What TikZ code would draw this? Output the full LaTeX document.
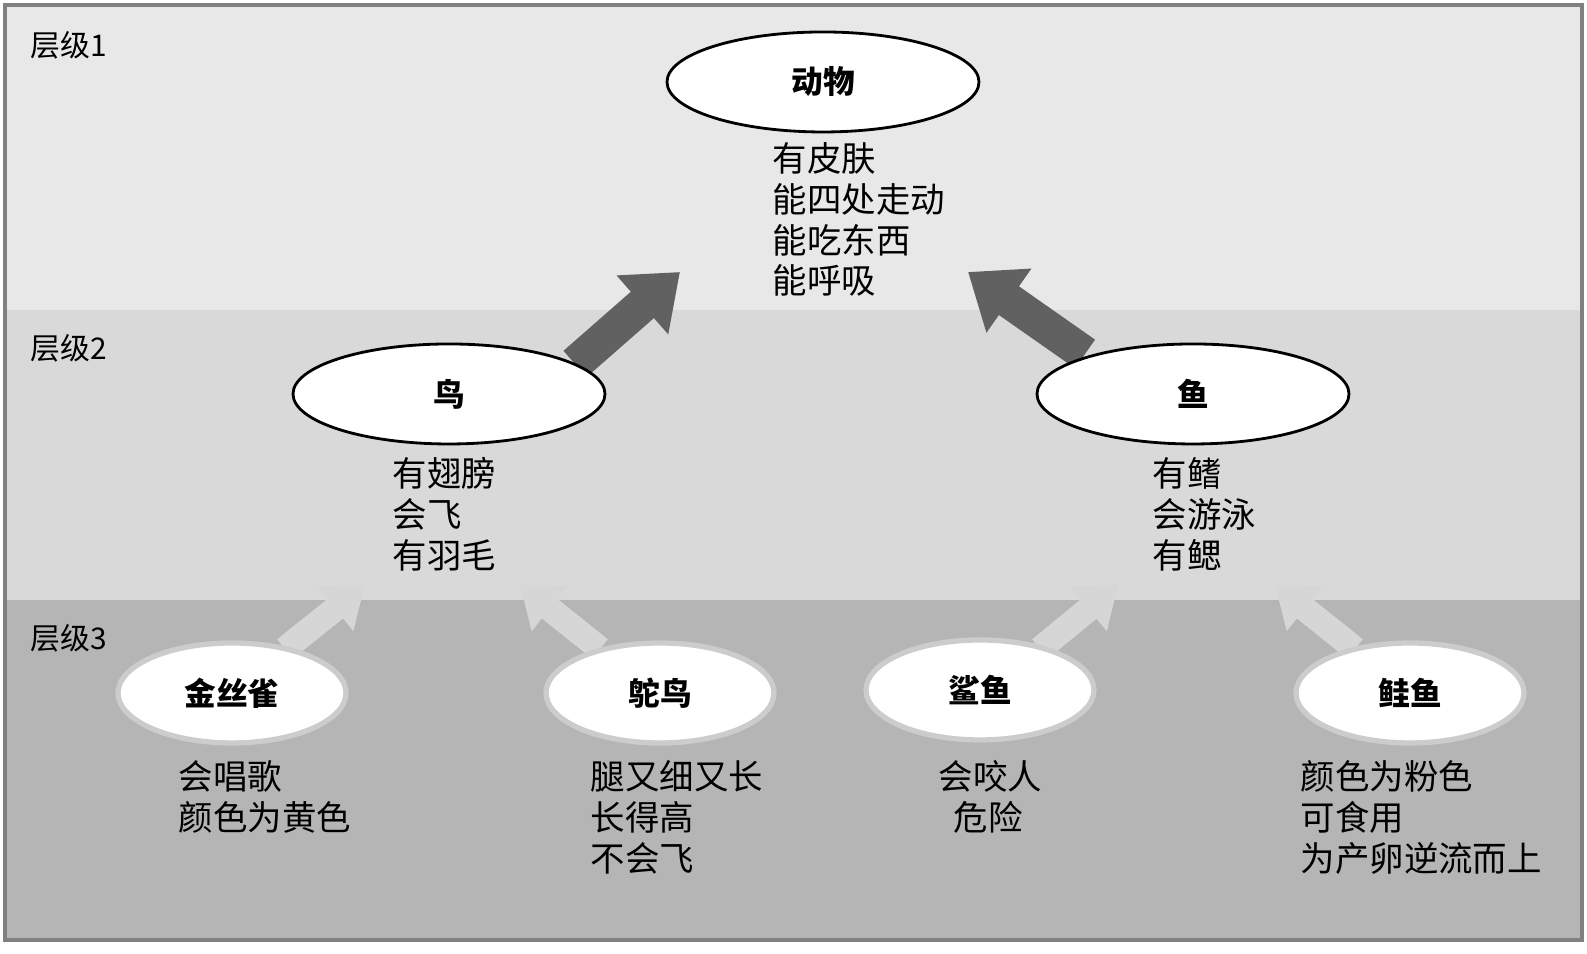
\documentclass[tikz,border=0pt]{standalone}
\usepackage{fontspec}
\newfontfamily\cjk{Noto Sans CJK SC}
\usetikzlibrary{arrows.meta,shapes.geometric}
\definecolor{bandA}{gray}{0.91}
\definecolor{bandB}{gray}{0.85}
\definecolor{bandC}{gray}{0.71}
\definecolor{darkarrow}{gray}{0.38}
\definecolor{lightarrow}{gray}{0.84}
\tikzset{
  concept/.style={ellipse, draw=black, thick, fill=white, minimum width=3.12cm, minimum height=1cm, font=\cjk\bfseries\fontsize{9}{11}\selectfont},
  leaf/.style={ellipse, draw=gray!40, line width=1.5pt, fill=white, minimum width=2.28cm, minimum height=1cm, font=\cjk\bfseries\fontsize{9}{11}\selectfont},
  props/.style={anchor=north west, align=left, inner sep=0pt, font=\cjk\fontsize{9.8}{11.6}\selectfont},
  level/.style={anchor=west, inner sep=0pt, font=\cjk\fontsize{8.5}{10}\selectfont},
  bigarrow/.style={line width=0.35cm, draw=darkarrow, -{Triangle[width=0.75cm,length=0.5cm]}},
  smallarrow/.style={line width=0.25cm, draw=lightarrow, -{Triangle[width=0.55cm,length=0.38cm]}}
}
\begin{document}
\begin{tikzpicture}
\useasboundingbox (0,0) rectangle (15.87,9.54);
% bands
\fill[bandA] (0.05,6.44) rectangle (15.82,9.49);
\fill[bandB] (0.05,3.54) rectangle (15.82,6.44);
\fill[bandC] (0.05,0.14) rectangle (15.82,3.54);
\draw[gray, line width=1pt] (0.05,0.14) rectangle (15.82,9.49);
\node[level] (l1) at (0.30,9.09) {层级1};
\node[level] (l2) at (0.30,6.06) {层级2};
\node[level] (l3) at (0.30,3.16) {层级3};
% arrow heads
\coordinate (t1) at (6.80,6.82);
\coordinate (t2) at (9.68,6.82);
\coordinate (t3) at (3.65,3.69);
\coordinate (t4) at (5.20,3.69);
\coordinate (t5) at (11.18,3.69);
\coordinate (t6) at (12.75,3.69);
\node[concept] (animal) at (8.23,8.72) {动物};
\coordinate (bird) at (4.49,5.60);
\coordinate (fish) at (11.93,5.60);
\coordinate (canary) at (2.32,2.61);
\coordinate (ostrich) at (6.60,2.61);
\coordinate (shark) at (9.80,2.64);
\coordinate (salmon) at (14.10,2.61);
\draw[bigarrow] (bird) ++(1.26,0.30) -- (t1);
\draw[bigarrow] (fish) ++(-1.08,0.40) -- (t2);
\draw[smallarrow] (canary) ++(0.53,0.44) -- (t3);
\draw[smallarrow] (ostrich) ++(-0.60,0.44) -- (t4);
\draw[smallarrow] (shark) ++(0.60,0.41) -- (t5);
\draw[smallarrow] (salmon) ++(-0.55,0.44) -- (t6);
% ellipses over arrow tails
\node[concept] (n-bird) at (bird) {鸟};
\node[concept] (n-fish) at (fish) {鱼};
\node[leaf] (n-canary) at (canary) {金丝雀};
\node[leaf] (n-ostrich) at (ostrich) {鸵鸟};
\node[leaf] (n-shark) at (shark) {鲨鱼};
\node[leaf] (n-salmon) at (salmon) {鲑鱼};
% properties
\node[props] (pa) at (7.72,8.12) {有皮肤\\能四处走动\\能吃东西\\能呼吸};
\node[props] (pb) at (3.92,4.97) {有翅膀\\会飞\\有羽毛};
\node[props] (pf) at (11.52,4.97) {有鳍\\会游泳\\有鳃};
\node[props] (pc) at (1.78,1.94) {会唱歌\\颜色为黄色};
\node[props] (po) at (5.90,1.94) {腿又细又长\\长得高\\不会飞};
\node[props] (ps) at (9.38,1.94) {会咬人\\\hspace{0.15cm}危险};
\node[props] (pl) at (13.00,1.94) {颜色为粉色\\可食用\\为产卵逆流而上};
\end{tikzpicture}
\end{document}
